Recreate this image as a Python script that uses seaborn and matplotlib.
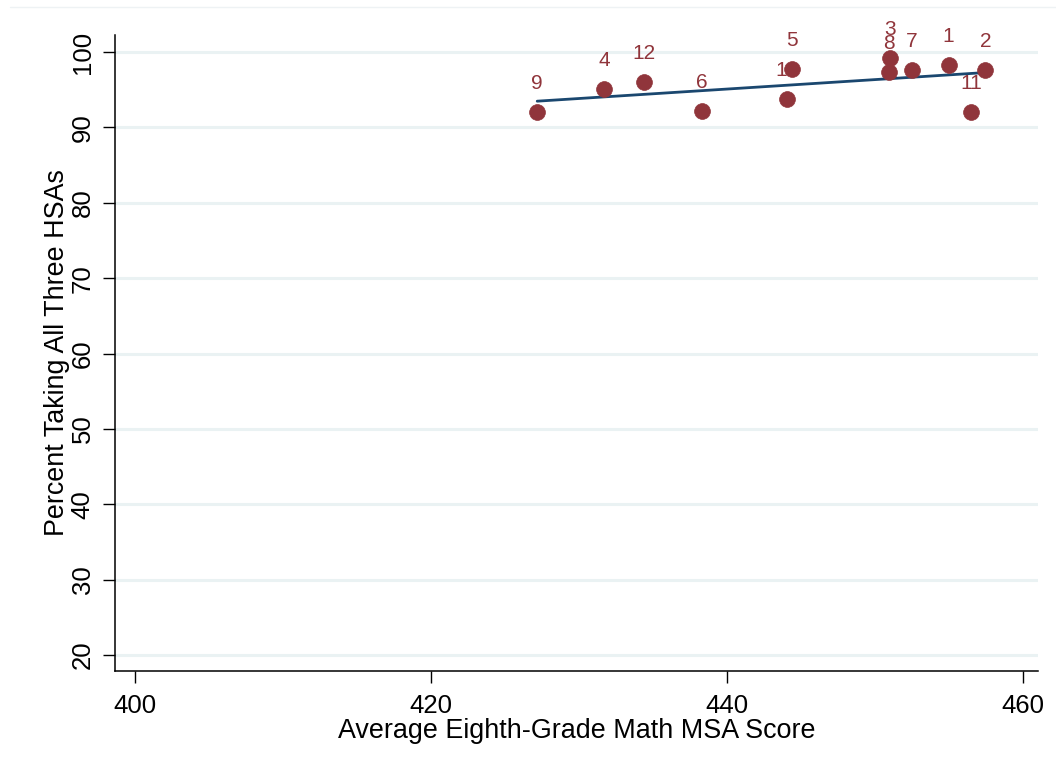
import matplotlib
matplotlib.use("Agg")
import matplotlib.pyplot as plt
from matplotlib.lines import Line2D
import seaborn as sns
import pandas as pd

# District-level values
district_ids = ["1", "2", "3", "4", "5", "6", "7", "8", "9", "10", "11", "12"]
msa_score = [454.96, 457.45, 450.98, 431.69, 444.37, 438.30,
             452.46, 450.91, 427.17, 444.03, 456.50, 434.39]
pct_all_three = [98.28, 97.60, 99.20, 95.09, 97.75, 92.17,
                 97.60, 97.35, 92.04, 93.77, 92.04, 96.02]

x_ticks = [400, 420, 440, 460]
y_ticks = [20, 30, 40, 50, 60, 70, 80, 90, 100]

df = pd.DataFrame({"district": district_ids, "msa": msa_score, "pct": pct_all_three})

sns.set_theme(style="white")
plt.rcParams["font.family"] = ["Liberation Sans", "DejaVu Sans"]
plt.rcParams["text.color"] = "black"
plt.rcParams["axes.labelcolor"] = "black"
plt.rcParams["xtick.color"] = "black"
plt.rcParams["ytick.color"] = "black"

marker_color = "#90353b"
line_color = "#1a476f"
grid_color = "#eaf2f3"

fig = plt.figure(figsize=(10.56, 7.73), dpi=100)
ax = fig.add_axes([115 / 1056, 1 - 671 / 773, (1038 - 115) / 1056, (671 - 35) / 773])

for yv in y_ticks:
    ax.axhline(yv, color=grid_color, lw=2.2, zorder=0)

sns.regplot(data=df, x="msa", y="pct", ax=ax, ci=None, scatter=False,
            line_kws={"color": line_color, "lw": 2.0, "zorder": 2})
sns.scatterplot(data=df, x="msa", y="pct", ax=ax, color=marker_color,
                s=130, edgecolor=marker_color, linewidth=0.5, zorder=3)

for _, row in df.iterrows():
    ax.annotate(row["district"], (row["msa"], row["pct"]),
                xytext=(0, 19), textcoords="offset pixels",
                ha="center", va="bottom", fontsize=15, color=marker_color,
                zorder=4)

ax.set_xlim(398.65, 461.0)
ax.set_ylim(17.9, 102.25)
ax.set_xticks(x_ticks)
ax.set_yticks(y_ticks)
ax.set_xticklabels([str(v) for v in x_ticks], fontsize=18.5)
ax.set_yticklabels([str(v) for v in y_ticks], fontsize=18.5, rotation=90, va="center")
ax.tick_params(axis="both", which="major", direction="out", length=8.5,
               width=1, color="black", bottom=True, left=True)
ax.tick_params(axis="x", pad=8)
ax.tick_params(axis="y", pad=6)

ax.set_xlabel("Average Eighth-Grade Math MSA Score", fontsize=19.4, labelpad=0)
ax.set_ylabel("Percent Taking All Three HSAs", fontsize=19.4, labelpad=0.5)

for side in ["top", "right"]:
    ax.spines[side].set_visible(False)
for side in ["left", "bottom"]:
    ax.spines[side].set_color("black")
    ax.spines[side].set_linewidth(1.1)

fig.add_artist(Line2D([10 / 1056, 1.0], [1 - 7 / 773, 1 - 7 / 773],
                      transform=fig.transFigure, color="#eef2f4", lw=1.0))

fig.savefig("out.png", dpi=100, facecolor="white")
